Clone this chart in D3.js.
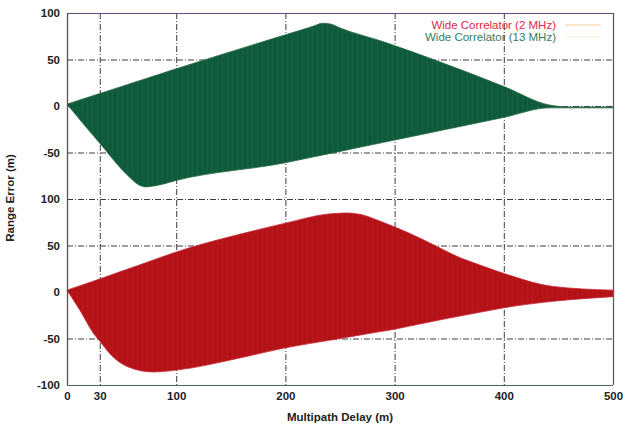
<!DOCTYPE html>
<html>
<head>
<meta charset="utf-8">
<script src="https://cdn.jsdelivr.net/npm/d3@7"></script>
<style>
  html, body { margin: 0; padding: 0; background: #fff; }
  svg { display: block; }
  .tick text { font-family: "Liberation Sans", Arial, sans-serif; font-weight: bold; font-size: 11.5px; fill: #222; }
</style>
</head>
<body>
<svg id="chart" width="626" height="425"></svg>
<script>
// Multipath range-error envelopes: [delay (m), error (m)]
const delayTicks = [0, 30, 100, 200, 300, 400, 500];
const topTicks = [100, 50, 0, -50];
const bottomTicks = [100, 50, 0, -50, -100];

// 13 MHz wide correlator (upper panel)
const wide13Upper = [[0, 2], [100, 40], [226, 86], [234, 89], [242, 88], [250, 84],
  [290, 69], [340, 48], [400, 21], [442, 1], [460, -1], [500, -1]];
const wide13Lower = [[0, 2], [30, -40], [55, -74], [66, -85], [72, -87], [84, -85], [100, -80],
  [200, -61], [442, -2], [460, -2], [500, -2]];

// 2 MHz wide correlator (lower panel)
const wide2Upper = [[0, 2], [30, 14], [100, 43], [158, 62], [200, 74], [240, 84], [255, 85], [270, 83],
  [287, 76], [302, 69], [323, 58], [354, 40], [378, 29], [400, 20], [445, 6], [500, 2]];
const wide2Lower = [[0, 2], [12, -20], [24, -44], [39, -66], [55, -80], [79, -86], [100, -84],
  [158, -71], [200, -60], [250, -50], [300, -40], [350, -28], [400, -17], [445, -10], [500, -5]];

const legendLabels = ["Wide Correlator (2 MHz)", "Wide Correlator (13 MHz)"];

const svg = d3.select("#chart");
const plotL = 67, plotR = 613, plotT = 13, plotM = 199, plotB = 385;

const x = d3.scaleLinear().domain([0, 500]).range([plotL, plotR]);
const yTop = d3.scaleLinear().domain([-100, 100]).range([plotM, plotT]);
const yBot = d3.scaleLinear().domain([-100, 100]).range([plotB, plotM]);

// striped fills, the plotted curve oscillates densely with delay
const defs = svg.append("defs");
function stripes(id, base, alt) {
  const p = defs.append("pattern").attr("id", id).attr("patternUnits", "userSpaceOnUse")
    .attr("width", 5).attr("height", 10);
  p.append("rect").attr("width", 5).attr("height", 10).attr("fill", base);
  p.append("rect").attr("x", 2).attr("width", 1).attr("height", 10).attr("fill", alt);
}
stripes("g13", "#0e5a3a", "#146444");
stripes("g2", "#b31217", "#bd161c");

function band(upper, lower, y, curve) {
  const xs = Array.from(new Set(upper.map(d => d[0]).concat(lower.map(d => d[0])))).sort((a, b) => a - b);
  const up = d3.scaleLinear().domain(upper.map(d => d[0])).range(upper.map(d => d[1]));
  const dn = d3.scaleLinear().domain(lower.map(d => d[0])).range(lower.map(d => d[1]));
  const rows = xs.map(d => ({ d, hi: up(d), lo: dn(d) }));
  return d3.area().curve(curve)
    .x(r => x(r.d)).y0(r => y(r.lo)).y1(r => y(r.hi))(rows);
}

// gridlines (dash-dot)
const grid = svg.append("g").attr("stroke", "#3c3a44").attr("stroke-width", 1)
  .attr("stroke-dasharray", "6,2,1,2").attr("fill", "none");
[30, 100, 200, 300, 400].forEach(d => {
  grid.append("line").attr("x1", x(d) + 0.5).attr("x2", x(d) + 0.5).attr("y1", plotT).attr("y2", plotB);
});
topTicks.forEach(v => {
  grid.append("line").attr("x1", plotL).attr("x2", plotR).attr("y1", yTop(v) + 0.5).attr("y2", yTop(v) + 0.5);
});
bottomTicks.filter(v => v > -100).forEach(v => {
  grid.append("line").attr("x1", plotL).attr("x2", plotR).attr("y1", yBot(v) + 0.5).attr("y2", yBot(v) + 0.5);
});

// envelopes
svg.append("path").attr("d", band(wide13Upper, wide13Lower, yTop, d3.curveMonotoneX))
  .attr("fill", "url(#g13)").attr("stroke", "#2a6a44").attr("stroke-width", 0.8);
svg.append("path").attr("d", band(wide2Upper, wide2Lower, yBot, d3.curveMonotoneX))
  .attr("fill", "url(#g2)").attr("stroke", "#c8283a").attr("stroke-width", 0.8);

// frame
svg.append("line").attr("x1", plotL).attr("x2", plotR).attr("y1", plotT + 0.5).attr("y2", plotT + 0.5)
  .attr("stroke", "#6a4a7a").attr("stroke-width", 1.2);
svg.append("line").attr("x1", plotL).attr("x2", plotR).attr("y1", plotB + 0.5).attr("y2", plotB + 0.5)
  .attr("stroke", "#4a6a4a").attr("stroke-width", 1.2);
svg.append("line").attr("x1", plotL + 0.5).attr("x2", plotL + 0.5).attr("y1", plotT).attr("y2", plotB)
  .attr("stroke", "#5a5050").attr("stroke-width", 1.3);
svg.append("line").attr("x1", plotR + 0.5).attr("x2", plotR + 0.5).attr("y1", plotT).attr("y2", plotB)
  .attr("stroke", "#555").attr("stroke-width", 1.2);

// axes
const ax = svg.append("g").attr("transform", `translate(0,${plotB})`)
  .call(d3.axisBottom(x).tickValues(delayTicks).tickSize(0).tickPadding(7).tickFormat(d3.format("d")));
ax.select(".domain").remove();
const ay1 = svg.append("g").attr("transform", `translate(${plotL},0)`)
  .call(d3.axisLeft(yTop).tickValues(topTicks).tickSize(0).tickPadding(7));
ay1.select(".domain").remove();
const ay2 = svg.append("g").attr("transform", `translate(${plotL},0)`)
  .call(d3.axisLeft(yBot).tickValues(bottomTicks).tickSize(0).tickPadding(7).tickFormat(d3.format("d")));
ay2.select(".domain").remove();
svg.selectAll(".tick text").text(function () { return this.textContent.replace("\u2212", "-"); });

// axis titles
svg.append("text").attr("x", 340).attr("y", 421).attr("text-anchor", "middle")
  .attr("font-family", "Liberation Sans, Arial, sans-serif").attr("font-weight", "bold")
  .attr("font-size", 11.5).attr("fill", "#222").text("Multipath Delay (m)");
svg.append("text").attr("transform", "translate(14,198) rotate(-90)").attr("text-anchor", "middle")
  .attr("font-family", "Liberation Sans, Arial, sans-serif").attr("font-weight", "bold")
  .attr("font-size", 11.5).attr("fill", "#222").text("Range Error (m)");

// legend
const legend = svg.append("g").attr("font-family", "Liberation Sans, Arial, sans-serif").attr("font-size", 11.5);
const legendColors = ["#e0283e", "#3a7a5c"];
const sampleColors = ["#f2d49a", "#f4eed0"];
legendLabels.forEach((t, i) => {
  const yy = 29 + i * 12;
  legend.append("text").attr("x", 556).attr("y", yy).attr("text-anchor", "end")
    .attr("fill", legendColors[i]).text(t);
  legend.append("line").attr("x1", 565).attr("x2", 601).attr("y1", yy - 4).attr("y2", yy - 4)
    .attr("stroke", sampleColors[i]).attr("stroke-width", 1.2);
});
</script>
</body>
</html>
